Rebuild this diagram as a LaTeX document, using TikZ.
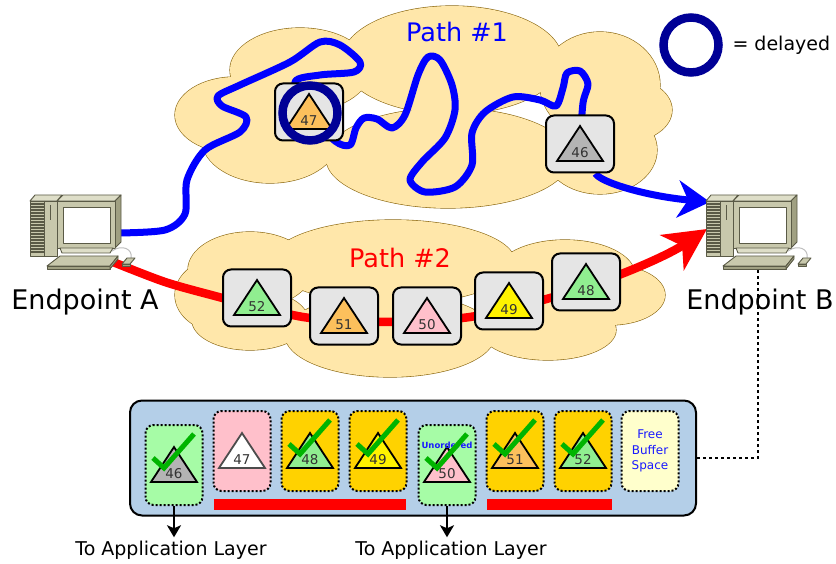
\documentclass[tikz,border=0pt]{standalone}
\usepackage{fontspec}
\setmainfont{DejaVu Sans}
\usetikzlibrary{arrows.meta}

\definecolor{cloudfill}{RGB}{255,231,170}
\definecolor{cloudedge}{RGB}{140,105,20}
\definecolor{pktgray}{RGB}{229,229,229}
\definecolor{ringblue}{RGB}{0,0,150}
\definecolor{bufblue}{RGB}{180,207,232}
\definecolor{slotgreen}{RGB}{166,252,166}
\definecolor{slotgold}{RGB}{255,210,0}
\definecolor{slotpink}{RGB}{255,192,203}
\definecolor{slotfree}{RGB}{255,255,204}
\definecolor{triorange}{RGB}{252,192,92}
\definecolor{trigreen}{RGB}{144,238,144}
\definecolor{trigray}{RGB}{180,180,180}
\definecolor{okgreen}{RGB}{0,180,0}
\definecolor{pcface}{RGB}{200,200,172}
\definecolor{pclight}{RGB}{222,222,200}
\definecolor{pcside}{RGB}{160,160,130}
\definecolor{pcedge}{RGB}{90,90,70}

\pgfdeclarelayer{back}
\pgfdeclarelayer{wires}
\pgfsetlayers{back,wires,main}

% triangle with its sequence number: [outline]{centre}{fill}{number}
\newcommand\seqtri[4][black]{%
  \draw[#1, fill=#3, line width=1.8]
    ([yshift=18]#2.center) -- ([xshift=23,yshift=-17]#2.center) -- ([xshift=-23,yshift=-17]#2.center) -- cycle;
  \node[num] at ([yshift=-9]#2.center) {#4};
}

% green tick over a buffer slot
\newcommand\okmark[1]{%
  \draw[okstyle] ([xshift=-21,yshift=7]#1.center) -- ([xshift=-10,yshift=-3]#1.center) -- ([xshift=20,yshift=31]#1.center);
}

% desktop computer, tower on the left
\newcommand\computer{%
  \filldraw[pc, fill=pclight] (30,201) -- (35,195) -- (62,195) -- (57,201) -- cycle;
  \filldraw[pc] (30,201) rectangle (57,256);
  \foreach \y in {204,207,...,252} \draw[pcedge, line width=1.1] (31,\y) -- (44,\y);
  \draw[pcedge] (44,201) -- (44,256);
  \draw[pcedge] (50,205) -- (50,220);
  % monitor
  \filldraw[pc, fill=pclight] (57,201) -- (63,195) -- (121,195) -- (115,201) -- cycle;
  \filldraw[pc, fill=pcside] (115,201) -- (121,195) -- (121,242) -- (115,248) -- cycle;
  \filldraw[pc] (57,201) rectangle (115,248);
  \filldraw[pc, fill=white] (63,207) rectangle (110,243);
  \filldraw[pc, fill=pclight] (60,248) -- (113,248) -- (110,253) -- (62,253) -- cycle;
  % keyboard and mouse
  \draw[black!25, line width=1] (112,251) .. controls (122,244) and (133,249) .. (131,258);
  \filldraw[pc] (47,266) -- (60,256) -- (118,256) -- (110,266) -- cycle;
  \filldraw[pc, fill=pcside] (47,266) rectangle (110,269);
  \filldraw[pc, fill=pcside] (110,266) -- (118,256) -- (118,259) -- (110,269) -- cycle;
  \filldraw[pc] (122,264) -- (127,258) -- (135,258) -- (130,264) -- cycle;
  \filldraw[pc, fill=pcside] (122,264) rectangle (130,266);
}

% cloud lobes: x/y/x radius/y radius
\def\cloudone{235/115/60/38, 300/70/70/42, 452/60/110/54, 600/85/60/53, 625/110/47/32,
  600/150/57/44, 448/158/122/50, 270/140/68/43}
\def\cloudtwo{225/295/50/38, 250/270/62/38, 393/262/122/42, 565/275/70/35, 610/295/55/30,
  548/330/68/30, 390/335/105/42, 250/320/58/30}

\begin{document}
\begin{tikzpicture}[x=1pt, y=-1pt,
  pc/.style={draw=pcedge, fill=pcface, line width=0.9, line join=round},
  packet/.style={draw, line width=2, rounded corners=8, fill=pktgray,
    minimum width=68, minimum height=57, inner sep=0},
  slot/.style={draw, line width=2, dotted, rounded corners=8,
    minimum width=57, minimum height=80, inner sep=0},
  num/.style={font=\fontsize{13.5}{13.5}\selectfont, text=black!80},
  okstyle/.style={okgreen, line width=5},
  delayring/.style={circle, draw=ringblue, line width=8.5, minimum size=55, inner sep=0},
  title/.style={font=\fontsize{25.5}{27}\selectfont},
  endlabel/.style={font=\fontsize{27}{29}\selectfont},
  lbl/.style={font=\fontsize{19}{21}\selectfont},
  bluewire/.style={blue, line width=7, line cap=round, line join=round},
  redwire/.style={red, line width=8.5, line join=round},
]
\useasboundingbox (0,0) rectangle (836,564);

% the two clouds
\begin{pgfonlayer}{back}
  \foreach \cx/\cy/\rx/\ry in \cloudone
    \filldraw[draw=cloudedge, fill=cloudfill, line width=1.2] (\cx,\cy) ellipse[x radius=\rx, y radius=\ry];
  \foreach \cx/\cy/\rx/\ry in \cloudone
    \fill[cloudfill] (\cx,\cy) ellipse[x radius=\rx, y radius=\ry];
  \foreach \cx/\cy/\rx/\ry in \cloudtwo
    \filldraw[draw=cloudedge, fill=cloudfill, line width=1.2] (\cx,\cy) ellipse[x radius=\rx, y radius=\ry];
  \foreach \cx/\cy/\rx/\ry in \cloudtwo
    \fill[cloudfill] (\cx,\cy) ellipse[x radius=\rx, y radius=\ry];
\end{pgfonlayer}

\node[title, text=blue] (path1) at (457,32) {Path \#1};
\node[title, text=red] (path2) at (400,258) {Path \#2};

% endpoints
\computer
\begin{scope}[xshift=676]
  \computer
\end{scope}
\coordinate (blueA) at (118,233);
\coordinate (redA) at (113,262);
\coordinate (blueB) at (710,202);
\coordinate (redB) at (707,229);
\coordinate (kbB) at (758,268);
\node[endlabel] (endA) at (85,302) {Endpoint A};

% packets on path 1
\node[packet] (p47) at (309,112) {};
\seqtri{p47}{triorange}{47}
\node[delayring] (late) at (310,113) {};
\node[packet] (p46) at (580,144) {};
\seqtri{p46}{trigray}{46}

% packets on path 2
\foreach \n/\x/\y/\c in {52/257/298/trigreen, 51/344/316/triorange, 50/427/316/slotpink,
  49/509/301/yellow, 48/586/282/trigreen} {
  \node[packet] (p\n) at (\x,\y) {};
  \seqtri{p\n}{\c}{\n}
}

% the wires behind the packets
\begin{pgfonlayer}{wires}
  \draw[bluewire] plot[smooth] coordinates {(blueA) (165,230) (185,214) (187,180) (205,150)
    (240,132) (246,117) (222,106) (218,96) (240,85) (290,62) (320,42) (340,45) (360,62)
    (354,72) (320,75) (295,82) (p47) (335,141) (350,145) (356,128) (364,118) (377,119)
    (392,128) (405,115) (418,75) (428,57) (440,60) (452,85) (455,110) (445,138) (422,162)
    (410,180) (425,192) (455,187) (472,165) (472,133) (485,112) (513,97) (540,100)
    (556,106) (563,88) (567,73) (580,71) (588,84) (583,103) (p46)};
  \draw[bluewire, line cap=butt, -{Stealth[length=32, width=37, inset=10]}]
    (p46) .. controls (600,182) and (645,196) .. (blueB);
  \draw[redwire, -{Stealth[length=42, width=42, inset=12]}]
    (redA) -- plot[smooth] coordinates {(redA) (165,282) (215,296) (258,307) (303,317)
    (344,321) (390,322) (427,321) (470,317) (509,309) (550,298) (586,287)}
    .. controls (630,272) and (670,254) .. (redB);
\end{pgfonlayer}

% delayed marker
\node[delayring] (key) at (691,45) {};
\node[lbl, anchor=west] (keytext) at (729,45) {= delayed};

% receive buffer
\node[draw, line width=2, rounded corners=12, fill=bufblue, minimum width=566,
  minimum height=115] (buffer) at (413,458) {};
\fill[red] (214,499) rectangle (406,510);
\fill[red] (487,499) rectangle (612,510);

\node[slot, fill=slotgreen] (s46) at (174,465) {};
\node[slot, fill=slotpink] (s47) at (242,451) {};
\node[slot, fill=slotgold] (s48) at (310,451) {};
\node[slot, fill=slotgold] (s49) at (378,451) {};
\node[slot, fill=slotgreen] (s50) at (447,465) {};
\node[slot, fill=slotgold] (s51) at (515,451) {};
\node[slot, fill=slotgold] (s52) at (583,451) {};
\node[slot, fill=slotfree, align=center, text=blue!90!white,
  font=\fontsize{12}{15.5}\selectfont] (free) at (650,451) {Free\\Buffer\\Space};

\seqtri{s46}{trigray}{46}
\seqtri[black!70]{s47}{white}{47}
\seqtri{s48}{trigreen}{48}
\seqtri{s49}{yellow}{49}
\seqtri{s50}{slotpink}{50}
\seqtri{s51}{triorange}{51}
\seqtri{s52}{trigreen}{52}
\node[text=blue!90!white, font=\bfseries\fontsize{8.5}{9}\selectfont] (unord) at ([yshift=20]s50.center) {Unordered};
\foreach \s in {s46, s48, s49, s50, s51, s52} {
  \okmark{\s}
}

% hand-off to the application
\node[lbl] (app1) at (171,550) {To Application Layer};
\node[lbl] (app2) at (451,550) {To Application Layer};
\draw[line width=2, -{Stealth[length=12, width=14, inset=3]}] (s46.south) -- (app1.north -| s46.south);
\draw[line width=2, -{Stealth[length=12, width=14, inset=3]}] (s50.south) -- (app2.north -| s50.south);

% buffer belongs to endpoint B
\draw[line width=2, dash pattern=on 3 off 3] (buffer.east) -| (kbB);
\node[endlabel] (endB) at (760,302) {Endpoint B};
\end{tikzpicture}
\end{document}
